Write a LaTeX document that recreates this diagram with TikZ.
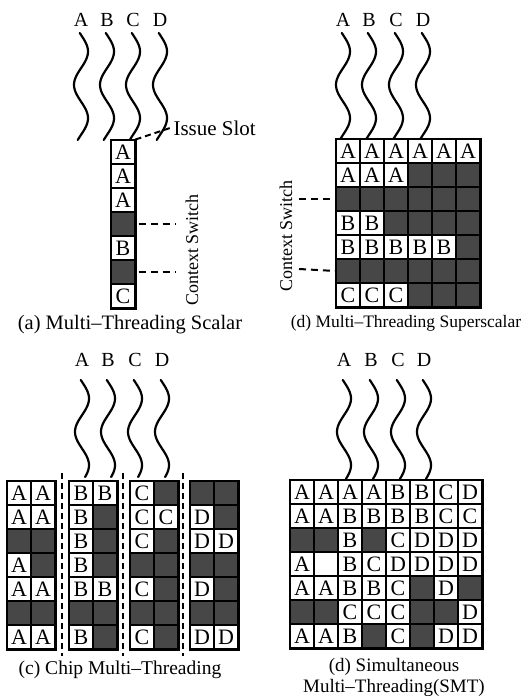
\documentclass[tikz,border=0pt]{standalone}
\usepackage{fontspec}
\setmainfont{Liberation Serif}
\usetikzlibrary{positioning}
\definecolor{cellgray}{HTML}{474747}

% one issue slot: x = dark, o = empty, else a thread letter
\newcommand{\putcell}[4]{%
  \if x#4\node[cell=cellgray] (#1) at (#2,#3) {};%
  \else\if o#4\node[cell] (#1) at (#2,#3) {};%
  \else\node[cell] (#1) at (#2,#3) {#4};\fi\fi}
% wavy thread line
\newcommand{\thread}[3]{%
  \draw[thread] plot[variable=\w, domain=0:#3, samples=60, smooth] ({#1+7*sin(5.4*\w-10)}, {#2+\w});}

\begin{document}
\begin{tikzpicture}[x=1pt, y=-1pt,
  cell/.style={draw, fill=#1, line width=1.1pt, minimum width=24pt, minimum height=24pt, inner sep=0pt, font=\fontsize{22}{22}\selectfont},
  cell/.default=white,
  coreframe/.style={draw, line width=1.9pt},
  thread/.style={line width=2.2pt, line cap=round},
  lbl/.style={font=\fontsize{20}{20}\selectfont},
  ctxdash/.style={line width=2pt, dash pattern=on 7pt off 5pt},
  splitline/.style={line width=1.6pt, dash pattern=on 6pt off 4pt}]
\useasboundingbox (0,0) rectangle (522,696);

% (a) scalar
\foreach \l/\x in {A/81,B/107,C/133,D/160} {
  \node[lbl] (ta\l) at (\x,20) {\l};
  \thread{\x}{33}{107}
}
\foreach \c [count=\r] in {A,A,A,x,B,x,C} {
  \putcell{a\r}{123}{128+24*\r}{\c}
}
\draw[coreframe] (a1.north west) rectangle (a7.south east);
\node[anchor=west, font=\fontsize{21}{21}\selectfont] (issue) at (170,128) {Issue Slot};
\draw[ctxdash, dash pattern=on 6pt off 4pt] (a1.north east) -- (issue.west);
\coordinate (csa1) at (175,224);
\coordinate (csa2) at (175,272);
\draw[ctxdash, shorten <=3pt] (a4.east) -- (csa1);
\draw[ctxdash, shorten <=3pt] (a6.east) -- (csa2);
\node[rotate=90, font=\fontsize{18}{18}\selectfont] (csta) at (192,250) {Context Switch};
\node[font=\fontsize{20.5}{20.5}\selectfont] (capa) at (130,325) {(a) Multi--Threading Scalar};

% (d) superscalar
\foreach \l/\x in {A/343,B/369,C/396,D/423} {
  \node[lbl] (td\l) at (\x,20) {\l};
  \thread{\x}{33}{106}
}
\foreach \row [count=\r] in {{A,A,A,A,A,A},{A,A,A,x,x,x},{x,x,x,x,x,x},{B,B,x,x,x,x},{B,B,B,B,B,x},{x,x,x,x,x,x},{C,C,C,x,x,x}} {
  \foreach \c [count=\k] in \row {
    \putcell{s\r-\k}{324+24*\k}{127+24*\r}{\c}
  }
}
\draw[coreframe] (s1-1.north west) rectangle (s7-6.south east);
\coordinate (csd1) at (299,199);
\coordinate (csd2) at (299,269);
\draw[ctxdash] (csd1) -- (s3-1.west);
\draw[ctxdash] (csd2) -- (s6-1.west);
\node[rotate=90, font=\fontsize{18}{18}\selectfont] (cstd) at (286,236) {Context Switch};
\node[font=\fontsize{17.5}{17.5}\selectfont] (capd) at (406,323) {(d) Multi--Threading Superscalar};

% (c) chip multi-threading
\foreach \l/\x in {A/82,B/108,C/135,D/162} {
  \node[lbl] (tc\l) at (\x,360) {\l};
  \thread{\x}{380}{97}
}
\foreach \row [count=\r] in {{A,A,B,B,C,x,x,x},{A,A,B,x,C,C,D,x},{x,x,B,x,C,x,D,D},{A,x,B,x,x,x,x,x},{A,A,B,B,C,x,D,x},{x,x,x,x,x,x,x,x},{A,A,B,x,C,x,D,D}} {
  \foreach \c [count=\k] in \row {
    \pgfmathsetmacro{\cx}{{19,43,81,105,142,166,202,226}[\k-1]}
    \putcell{c\r-\k}{\cx}{469+24*\r}{\c}
  }
}
\foreach \i/\j in {1/2,3/4,5/6,7/8} {
  \draw[coreframe] (c1-\i.north west) rectangle (c7-\j.south east);
}
\foreach \x in {62,123,183} {
  \draw[splitline] (\x,473) -- (\x,656);
}
\node[font=\fontsize{19.5}{19.5}\selectfont] (capc) at (120,670) {(c) Chip Multi--Threading};

% (d) SMT
\foreach \l/\x in {A/344,B/371,C/398,D/424} {
  \node[lbl] (tm\l) at (\x,360) {\l};
  \thread{\x}{380}{99}
}
\foreach \row [count=\r] in {{A,A,A,A,B,B,C,D},{A,A,B,B,B,B,C,C},{x,x,B,x,C,D,D,D},{A,o,B,C,D,D,D,D},{A,A,B,B,C,x,D,x},{x,x,C,C,C,x,x,D},{A,A,B,x,C,x,D,D}} {
  \foreach \c [count=\k] in \row {
    \putcell{m\r-\k}{278+24*\k}{468+24*\r}{\c}
  }
}
\draw[coreframe] (m1-1.north west) rectangle (m7-8.south east);
\node[align=center, font=\fontsize{19}{21}\selectfont] (capm) at (394,677) {(d) Simultaneous\\Multi--Threading(SMT)};
\end{tikzpicture}
\end{document}
